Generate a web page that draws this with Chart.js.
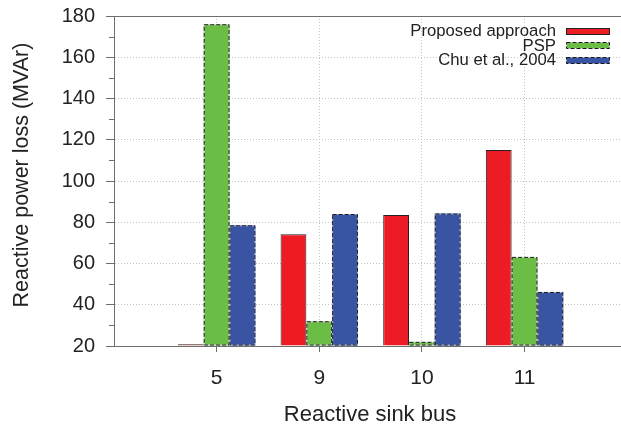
<!DOCTYPE html>
<html>
<head>
<meta charset="utf-8">
<script src="https://cdn.jsdelivr.net/npm/chart.js@4/dist/chart.umd.min.js"></script>
<style>
  html, body { margin: 0; padding: 0; overflow: hidden; background: #fff; }
  canvas { display: block; }
</style>
</head>
<body>
<canvas id="chart" width="621" height="439"></canvas>
<script>
// Reactive power loss per reactive sink bus (MVAr)
const categories = ['5', '9', '10', '11'];
const proposedApproach = [20.8, 74.2, 83.5, 115.0];
const pspValues = [176.0, 32.0, 22.0, 63.2];
const chuValues = [78.5, 84.0, 84.2, 46.2];
const yTickValues = [20, 40, 60, 80, 100, 120, 140, 160, 180];
const yMinorValues = [30, 50, 70, 90, 110, 130, 150, 170];

const FONT = '"Liberation Sans", Arial, Helvetica, sans-serif';
const TEXT = '#222222';
const AXIS = '#6e6e6e';
const GRID = '#c4c4c4';
const NONE = 'rgba(255,255,255,0)';

// Buses sit at slots 1..4 of the index axis; the axis runs a little past slot 4.
const slots = categories.map((_, i) => i + 1);
const X_MAX = 4.94;
const points = arr => arr.map((v, i) => ({ x: slots[i], y: v }));

// Dashed outlines for the PSP and Chu et al. bars.
const dashedBars = {
  id: 'dashedBars',
  afterDatasetsDraw(chart) {
    const ctx = chart.ctx;
    const area = chart.chartArea;
    chart.data.datasets.forEach((ds, i) => {
      if (!ds.dashed) return;
      chart.getDatasetMeta(i).data.forEach(bar => {
        const p = bar.getProps(['x', 'y', 'base', 'width'], true);
        if (!isFinite(p.y) || !isFinite(p.base)) return;
        const l = p.x - p.width / 2 + 0.5, r = p.x + p.width / 2 - 0.5;
        const t = Math.min(p.y, p.base) + 0.5;
        const b = Math.min(Math.max(p.y, p.base), area.bottom) - 0.5;
        ctx.save();
        ctx.lineWidth = 1;
        ctx.strokeStyle = ds.dashGap;
        ctx.strokeRect(l, t, r - l, b - t);
        ctx.strokeStyle = '#1a1a1a';
        ctx.setLineDash([4, 2]);
        ctx.strokeRect(l, t, r - l, b - t);
        ctx.restore();
      });
    });
  }
};

// Frame line on top, minor ticks, axis titles and the legend.
const decorations = {
  id: 'decorations',
  afterDraw(chart) {
    const ctx = chart.ctx;
    const area = chart.chartArea;
    const y = chart.scales.y;
    ctx.save();

    ctx.strokeStyle = AXIS;
    ctx.lineWidth = 1;
    ctx.beginPath();
    ctx.moveTo(area.left, area.top + 0.5);
    ctx.lineTo(area.right, area.top + 0.5);
    yMinorValues.forEach(v => {
      const py = Math.round(y.getPixelForValue(v)) + 0.5;
      ctx.moveTo(area.left - 5, py);
      ctx.lineTo(area.left, py);
    });
    ctx.stroke();

    ctx.fillStyle = TEXT;

    // category axis title
    ctx.font = '22px ' + FONT;
    ctx.textAlign = 'center';
    ctx.textBaseline = 'alphabetic';
    ctx.fillText('Reactive sink bus', 370, 421);

    // value axis title
    ctx.save();
    ctx.translate(22, 175);
    ctx.rotate(-Math.PI / 2);
    ctx.font = '21.5px ' + FONT;
    ctx.textAlign = 'center';
    ctx.textBaseline = 'middle';
    ctx.fillText('Reactive power loss (MVAr)', 0, 0);
    ctx.restore();

    // legend, text right-aligned, swatch to its right
    const swRight = 610, swW = 44, swH = 7;
    ctx.font = '16.7px ' + FONT;
    ctx.textAlign = 'right';
    ctx.textBaseline = 'middle';
    chart.data.datasets.forEach((ds, i) => {
      const cy = area.top + 15 + i * 14.6;
      ctx.fillStyle = TEXT;
      ctx.fillText(ds.label, swRight - swW - 10, cy + 0.5);
      const l = swRight - swW + 0.5, t = Math.round(cy - swH / 2) + 0.5;
      ctx.fillStyle = ds.backgroundColor;
      ctx.fillRect(l, t, swW - 1, swH - 1);
      ctx.lineWidth = 1;
      if (ds.dashed) {
        ctx.strokeStyle = ds.dashGap;
        ctx.strokeRect(l, t, swW - 1, swH - 1);
        ctx.setLineDash([4, 2]);
        ctx.strokeStyle = '#1a1a1a';
      } else {
        ctx.setLineDash([]);
        ctx.strokeStyle = '#222222';
      }
      ctx.strokeRect(l, t, swW - 1, swH - 1);
      ctx.setLineDash([]);
    });
    ctx.restore();
  }
};

new Chart(document.getElementById('chart'), {
  type: 'bar',
  data: {
    datasets: [
      {
        label: 'Proposed approach',
        data: points(proposedApproach),
        base: 20,
        backgroundColor: '#ed1c24',
        borderColor: '#222222',
        borderWidth: 1
      },
      {
        label: 'PSP',
        data: points(pspValues),
        base: 20,
        backgroundColor: '#6bbd45',
        borderWidth: 0,
        dashed: true,
        dashGap: '#d9ecd0'
      },
      {
        label: 'Chu et al., 2004',
        data: points(chuValues),
        base: 20,
        backgroundColor: '#3a54a4',
        borderWidth: 0,
        dashed: true,
        dashGap: '#a9b8e6'
      }
    ]
  },
  options: {
    responsive: false,
    animation: false,
    devicePixelRatio: 1,
    layout: { padding: { top: 16, right: 0, left: 0, bottom: 0 } },
    categoryPercentage: 0.754,
    barPercentage: 1.0,
    plugins: {
      legend: { display: false },
      tooltip: { enabled: false }
    },
    scales: {
      x: {
        type: 'linear',
        min: 0,
        max: X_MAX,
        offset: false,
        afterFit: s => {
          s.height = 93;
          s.paddingLeft = 0;
          s.paddingRight = 0;
        },
        afterBuildTicks: s => { s.ticks = slots.map(v => ({ value: v })); },
        border: { display: true, color: AXIS, width: 1, dash: [1, 2] },
        grid: {
          offset: false,
          color: GRID,
          tickColor: AXIS,
          tickLength: 6,
          lineWidth: 1
        },
        ticks: {
          color: TEXT,
          font: { family: FONT, size: 21 },
          padding: 14,
          maxRotation: 0,
          autoSkip: false,
          callback: v => categories[v - 1]
        }
      },
      y: {
        min: 20,
        max: 180,
        afterFit: s => {
          s.width = 114;
          s.paddingTop = 0;
          s.paddingBottom = 0;
        },
        afterBuildTicks: s => { s.ticks = yTickValues.map(v => ({ value: v })); },
        border: { display: true, color: AXIS, width: 1, dash: [1, 2] },
        grid: {
          color: c => (c.tick && (c.tick.value === 20 || c.tick.value === 180)) ? NONE : GRID,
          tickColor: AXIS,
          tickLength: 8,
          lineWidth: 1
        },
        ticks: {
          color: TEXT,
          font: { family: FONT, size: 20 },
          padding: 11
        }
      }
    }
  },
  plugins: [dashedBars, decorations]
});
</script>
</body>
</html>
